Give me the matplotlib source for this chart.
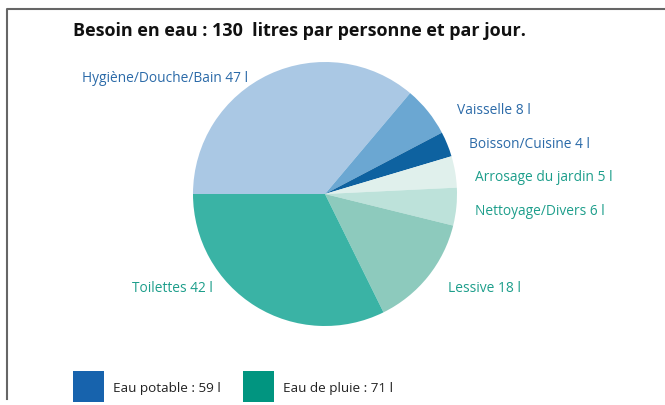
import matplotlib
matplotlib.use("Agg")
import matplotlib.pyplot as plt
from matplotlib.lines import Line2D
from matplotlib.patches import Rectangle

# données
categories = ["Hygiène/Douche/Bain", "Vaisselle", "Boisson/Cuisine", "Arrosage du jardin",
              "Nettoyage/Divers", "Lessive", "Toilettes"]
litres = [47, 8, 4, 5, 6, 18, 42]
slice_colors = ["#aac8e4", "#6ba7d2", "#0e62a0", "#e0f0ec", "#bde2da", "#8dcabd", "#3ab3a5"]
label_colors = ["#2b6aa8", "#2b6aa8", "#2b6aa8", "#1d9e8b", "#1d9e8b", "#1d9e8b", "#1d9e8b"]
legend_labels = ["Eau potable : 59 l", "Eau de pluie : 71 l"]
legend_colors = ["#1763ad", "#019580"]

W, H = 665, 406
fig = plt.figure(figsize=(W / 100, H / 100), dpi=100)
plt.rcParams['font.family'] = ['Open Sans', 'DejaVu Sans']

def px(x, y):
    return x / W, 1 - y / H

# pie
cx, cy, r = 325, 195, 132
ax = fig.add_axes([(cx - r) / W, (H - cy - r) / H, 2 * r / W, 2 * r / H])
ax.pie(litres, colors=slice_colors, startangle=180, counterclock=False,
       radius=1, wedgeprops=dict(linewidth=0))
ax.set_xlim(-1, 1)
ax.set_ylim(-1, 1)
ax.set_aspect("auto")
ax.axis("off")

# labels
label_pos = [(248, 79, "right"), (457, 111, "left"), (469, 144, "left"), (475, 178, "left"),
             (475, 212, "left"), (448, 289, "left"), (213, 288, "right")]
for name, val, col, (x, y, ha) in zip(categories, litres, label_colors, label_pos):
    fig.text(*px(x, y), f"{name} {val} l", color=col, fontsize=9.9, ha=ha, va="center")

# titre
fig.text(*px(73, 31), "Besoin en eau : 130  litres par personne et par jour.",
         fontsize=13.0, fontweight="bold", color="#111111", va="center", ha="left")

# légende
for (x, lab, col) in zip([73, 243], legend_labels, legend_colors):
    x0, y0 = px(x, 403)
    fig.add_artist(Rectangle((x0, y0), 31 / W, 31 / H, transform=fig.transFigure,
                             facecolor=col, edgecolor="none"))
    fig.text(*px(x + 40, 389), lab, fontsize=9.7, color="#222222", va="center", ha="left")

# cadre
fig.add_artist(Line2D([6.5 / W, 6.5 / W, 1], [1 - 400 / H, 1 - 9.5 / H, 1 - 9.5 / H],
                      transform=fig.transFigure, color="#666666", linewidth=1.5))

fig.savefig("out.png", dpi=100)
